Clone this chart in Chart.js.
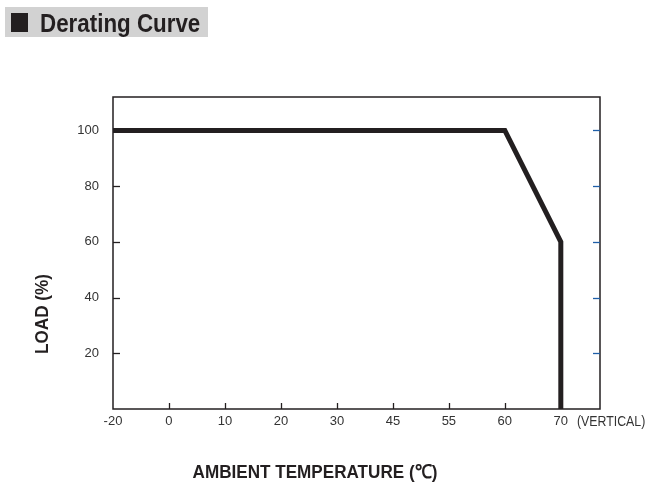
<!DOCTYPE html>
<html>
<head>
<meta charset="utf-8">
<script src="https://cdn.jsdelivr.net/npm/chart.js@4/dist/chart.umd.min.js"></script>
<style>
  html, body { margin: 0; padding: 0; background: #fff; }
  #wrap { width: 660px; height: 494px; position: relative; }
</style>
</head>
<body>
<div id="wrap"><canvas id="derating"></canvas></div>
<script>
// Derating curve data
const tempLabels = ['-20', '0', '10', '20', '30', '45', '55', '60', '70'];
const loadTicks = [20, 40, 60, 80, 100];
const curveTemps = ['-20', '60', '70', '70'];
const curveLoad = [100, 100, 60, 0];

const FONT = "'Liberation Sans Narrow', 'Liberation Sans', Arial, sans-serif";
const INK = '#231f20';

const curvePoints = curveTemps.map((t, i) => ({ x: tempLabels.indexOf(t), y: curveLoad[i] }));

// draws text squeezed horizontally, to mimic the narrow face of the original
function narrowText(ctx, text, x, y, sx, align) {
    ctx.save();
    ctx.translate(x, y);
    ctx.scale(sx, 1);
    ctx.textAlign = align;
    ctx.fillText(text, 0, 0);
    ctx.restore();
}

const decorPlugin = {
    id: 'decor',
    afterDraw(chart) {
        const ctx = chart.ctx;
        const area = chart.chartArea;
        const xs = chart.scales.x;
        const ys = chart.scales.y;
        ctx.save();

        // frame
        ctx.strokeStyle = INK;
        ctx.lineWidth = 1.5;
        ctx.strokeRect(area.left, area.top, area.right - area.left, area.bottom - area.top);

        // inner ticks
        ctx.lineWidth = 1.3;
        loadTicks.forEach(v => {
            const py = Math.round(ys.getPixelForValue(v)) + 0.5;
            ctx.strokeStyle = INK;
            ctx.beginPath();
            ctx.moveTo(area.left, py);
            ctx.lineTo(area.left + 7, py);
            ctx.stroke();
            ctx.strokeStyle = '#1f5fa8';
            ctx.beginPath();
            ctx.moveTo(area.right - 7, py);
            ctx.lineTo(area.right, py);
            ctx.stroke();
        });
        ctx.strokeStyle = INK;
        tempLabels.forEach((t, i) => {
            if (i === 0) return;
            const px = Math.round(xs.getPixelForValue(i)) + 0.5;
            ctx.beginPath();
            ctx.moveTo(px, area.bottom);
            ctx.lineTo(px, area.bottom - 6);
            ctx.stroke();
        });

        // title box
        ctx.fillStyle = '#d2d2d2';
        ctx.fillRect(5, 7, 203, 30);
        ctx.fillStyle = INK;
        ctx.fillRect(11, 13, 17, 19);
        ctx.font = "bold 26px " + FONT;
        ctx.textBaseline = 'alphabetic';
        narrowText(ctx, 'Derating Curve', 40, 32, 0.86, 'left');

        // axis titles
        ctx.font = "bold 19px " + FONT;
        narrowText(ctx, 'AMBIENT TEMPERATURE (\u2103)', 315, 478, 0.9, 'center');
        ctx.save();
        ctx.translate(48, 314);
        ctx.rotate(-Math.PI / 2);
        narrowText(ctx, 'LOAD (%)', 0, 0, 0.9, 'center');
        ctx.restore();

        // vertical note
        ctx.font = "14px " + FONT;
        ctx.fillStyle = '#333';
        narrowText(ctx, '(VERTICAL)', 577, 426, 0.88, 'left');

        ctx.restore();
    }
};

new Chart(document.getElementById('derating'), {
    type: 'line',
    data: {
        datasets: [{
            data: curvePoints,
            borderColor: INK,
            borderWidth: 5,
            pointRadius: 0,
            tension: 0,
            borderJoinStyle: 'miter',
            borderCapStyle: 'butt'
        }]
    },
    options: {
        responsive: true,
        maintainAspectRatio: false,
        animation: false,
        layout: { padding: { top: 97, right: 60, left: 0, bottom: 0 } },
        plugins: {
            legend: { display: false },
            tooltip: { enabled: false }
        },
        scales: {
            x: {
                type: 'linear',
                min: 0,
                max: 8.7,
                afterBuildTicks: scale => {
                    scale.ticks = tempLabels.map((t, i) => ({ value: i }));
                },
                afterFit: scale => { scale.height = 85; },
                grid: { display: false, drawTicks: false },
                border: { display: false },
                ticks: {
                    autoSkip: false,
                    maxRotation: 0,
                    padding: 5,
                    color: '#333',
                    font: { family: FONT, size: 13 },
                    callback: value => tempLabels[value] ?? ''
                }
            },
            y: {
                min: 0,
                max: 112,
                afterBuildTicks: scale => {
                    scale.ticks = loadTicks.map(v => ({ value: v }));
                },
                afterFit: scale => { scale.width = 113; },
                grid: { display: false, drawTicks: false },
                border: { display: false },
                ticks: {
                    padding: 14,
                    color: '#333',
                    font: { family: FONT, size: 13 }
                }
            }
        }
    },
    plugins: [decorPlugin]
});
</script>
</body>
</html>
